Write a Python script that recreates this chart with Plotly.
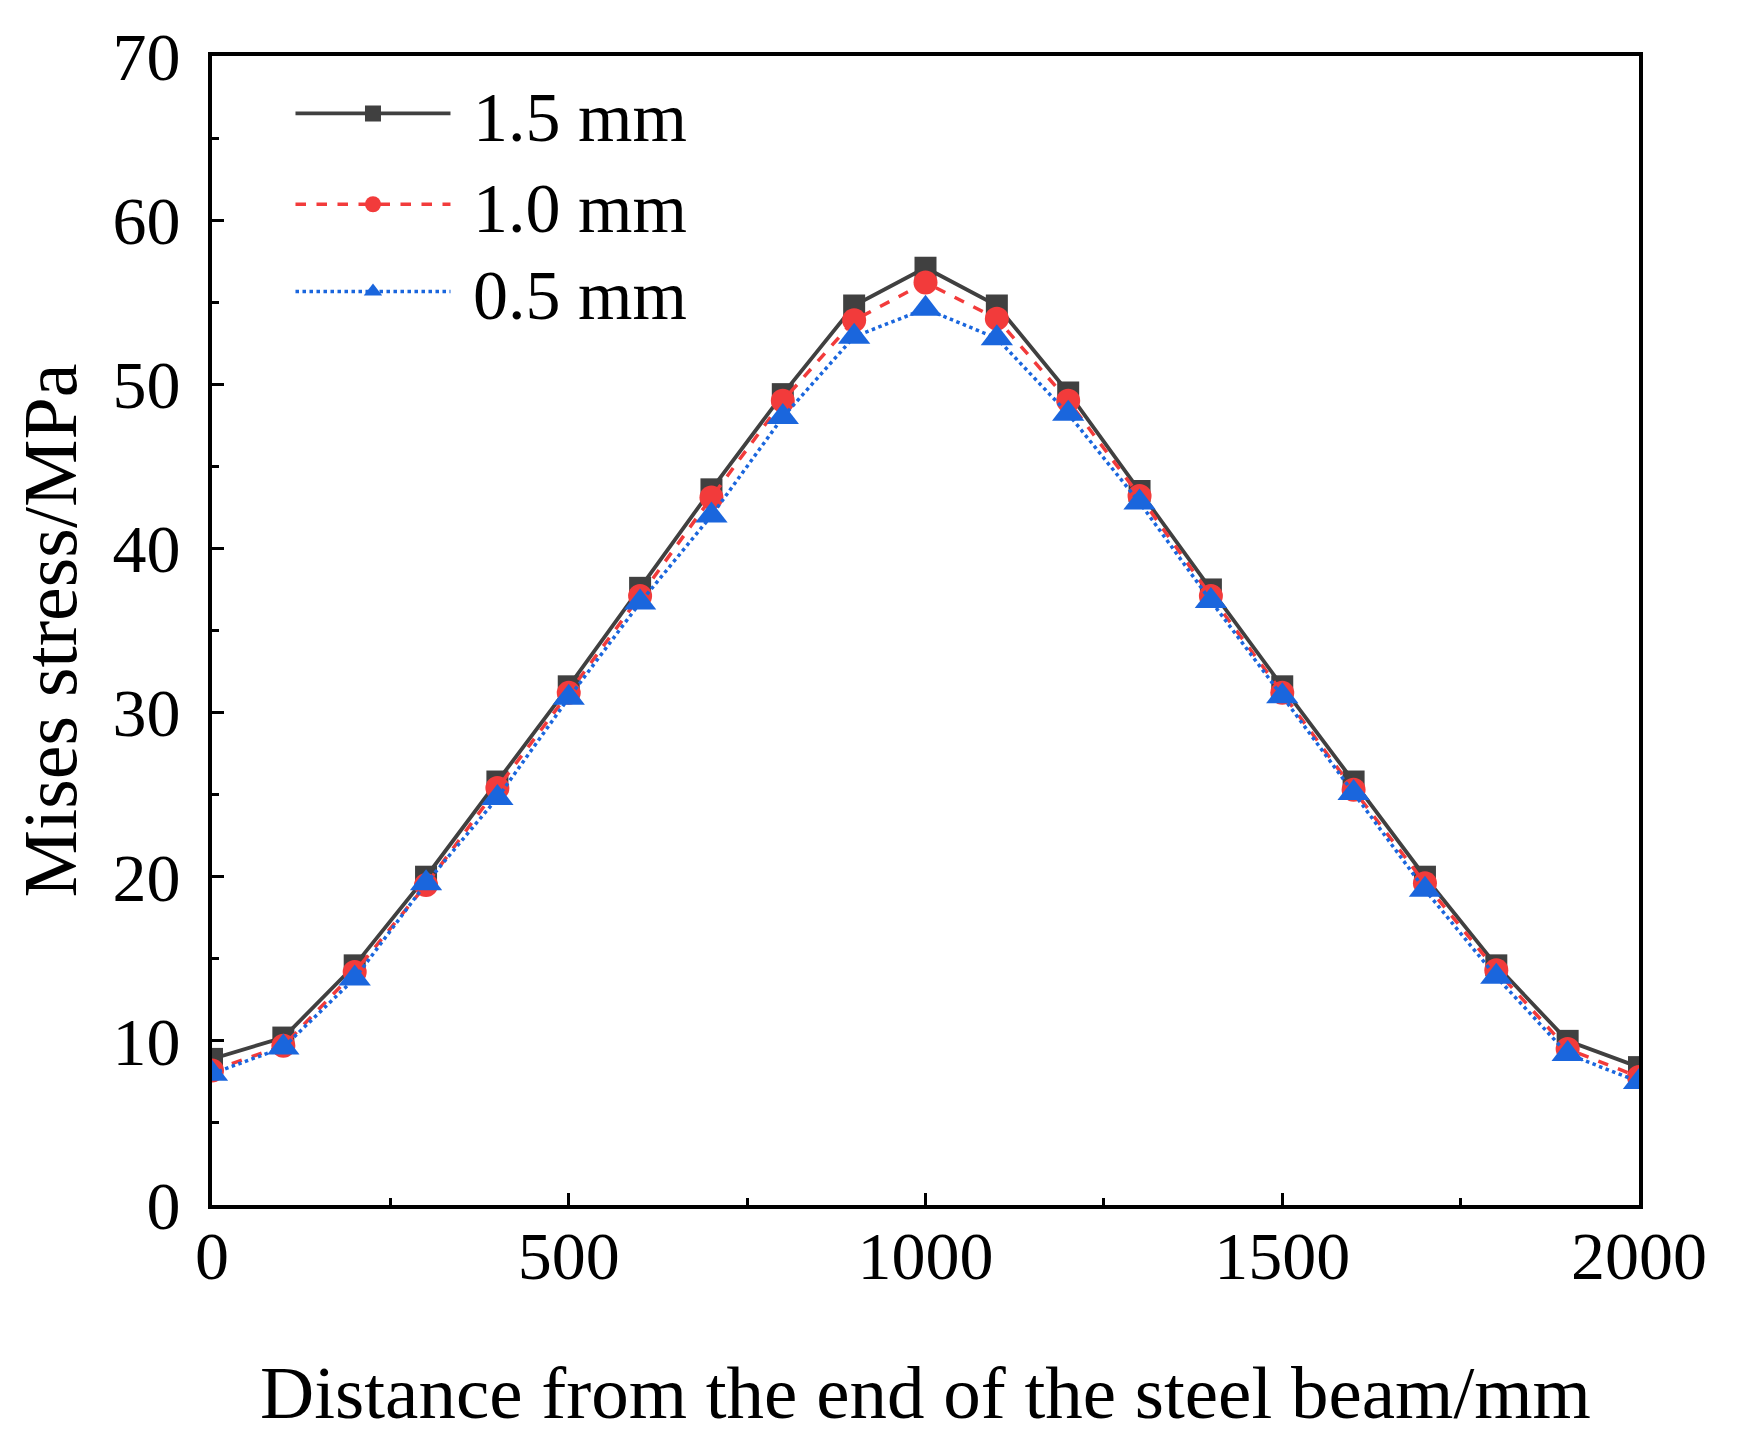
import plotly.graph_objects as go

distance = [0, 100, 200, 300, 400, 500, 600, 700, 800, 900, 1000,
            1100, 1200, 1300, 1400, 1500, 1600, 1700, 1800, 1900, 2000]
stress_15 = [8.9, 10.2, 14.6, 20.0, 25.8, 31.6, 37.6, 43.6, 49.4, 54.8, 57.1,
             54.8, 49.5, 43.5, 37.5, 31.6, 25.8, 20.0, 14.6, 10.0, 8.4]
stress_10 = [8.2, 9.7, 14.2, 19.5, 25.4, 31.2, 37.1, 43.1, 49.0, 53.9, 56.2,
             54.0, 49.0, 43.2, 37.1, 31.2, 25.3, 19.6, 14.3, 9.5, 7.8]
stress_05 = [8.0, 9.6, 13.8, 19.6, 24.8, 30.9, 36.7, 42.0, 48.0, 52.9, 54.6,
             52.8, 48.2, 42.8, 36.8, 31.0, 25.1, 19.2, 13.9, 9.2, 7.5]
labels = ["1.5 mm", "1.0 mm", "0.5 mm"]

FONT = "Liberation Serif"
NB = "\u00a0"

fig = go.Figure()
fig.add_trace(go.Scatter(x=distance, y=stress_15, name=NB + labels[0], mode="lines+markers",
                         line=dict(color="#404040", width=3.8, dash="solid"),
                         marker=dict(symbol="square", size=22, color="#404040"),
                         legend="legend", showlegend=True))
fig.add_trace(go.Scatter(x=distance, y=stress_10, name=NB + labels[1], mode="lines+markers",
                         line=dict(color="#f23b3b", width=3.5, dash="dash"),
                         marker=dict(symbol="circle", size=24, color="#f23b3b"),
                         legend="legend2", showlegend=True))
fig.add_trace(go.Scatter(x=distance, y=stress_05, name=NB + labels[2], mode="lines+markers",
                         line=dict(color="#1a66dd", width=3.5, dash="dot"),
                         marker=dict(symbol="triangle-up", size=28, color="#1a66dd"),
                         legend="legend3", showlegend=True))

axis_common = dict(
    showline=True, linecolor="black", linewidth=4, mirror=True,
    ticks="inside", ticklen=12, tickwidth=3, tickcolor="black",
    showgrid=False, zeroline=False,
    tickfont=dict(family=FONT, size=68, color="black"),
)

fig.update_xaxes(range=[0, 2000], tickvals=[0, 500, 1000, 1500, 2000],
                 ticklabelstandoff=-12, automargin=False,
                 minor=dict(tickvals=[250, 750, 1250, 1750], ticks="inside", ticklen=7,
                            tickwidth=3, tickcolor="black"),
                 title=dict(text="Distance from the end of the steel beam/mm",
                            font=dict(family=FONT, size=75, color="black"), standoff=74),
                 **axis_common)
fig.update_yaxes(range=[0, 70], tickvals=[0, 10, 20, 30, 40, 50, 60, 70],
                 ticklabelstandoff=14, automargin=False,
                 minor=dict(tickvals=[5, 15, 25, 35, 45, 55, 65], ticks="inside", ticklen=7,
                            tickwidth=3, tickcolor="black"),
                 title=dict(text="Mises stress/MPa",
                            font=dict(family=FONT, size=76, color="black"), standoff=14),
                 **axis_common)

leg_common = dict(x=0.055, xanchor="left", yanchor="middle", visible=True,
                  font=dict(family=FONT, size=70, color="black"),
                  bgcolor="rgba(0,0,0,0)", itemwidth=155)

fig.update_layout(
    width=1739, height=1430,
    margin=dict(l=204, r=108, t=48, b=233),
    paper_bgcolor="white", plot_bgcolor="white",
    font=dict(family=FONT, color="black"),
    showlegend=True,
    legend=dict(y=0.950, **leg_common),
    legend2=dict(y=0.871, **leg_common),
    legend3=dict(y=0.795, **leg_common),
)

fig.write_html("out.html")
